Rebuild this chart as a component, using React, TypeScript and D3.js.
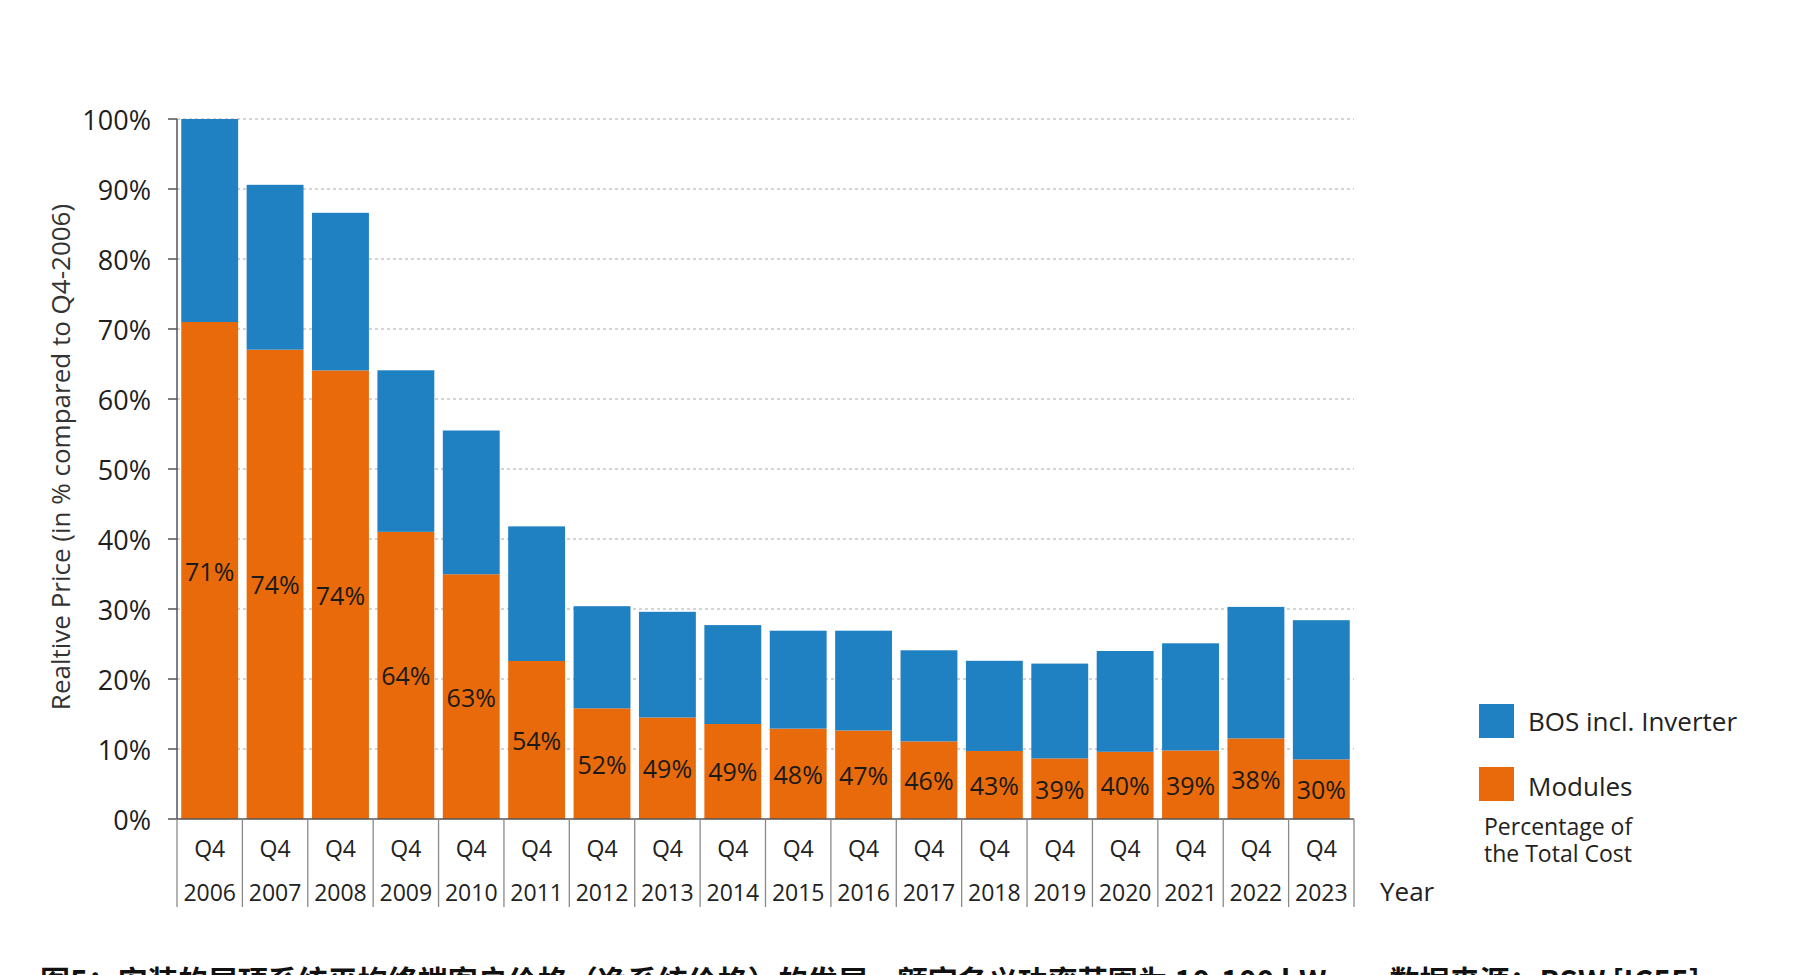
import React from "react";
import * as d3 from "d3";

// Relative end-customer price per year (Q4-2006 = 100 %)
const years = [
  "2006", "2007", "2008", "2009", "2010", "2011", "2012", "2013", "2014",
  "2015", "2016", "2017", "2018", "2019", "2020", "2021", "2022", "2023",
];
const quarterLabel = "Q4";
const totalPrice = [
  100, 90.6, 86.6, 64.1, 55.5, 41.8, 30.4, 29.6, 27.7,
  26.9, 26.9, 24.1, 22.6, 22.2, 24.0, 25.1, 30.3, 28.4,
];
// Share of the modules in the total system cost (%)
const moduleShare = [
  71, 74, 74, 64, 63, 54, 52, 49, 49,
  48, 47, 46, 43, 39, 40, 39, 38, 30,
];
const yTicks = [0, 10, 20, 30, 40, 50, 60, 70, 80, 90, 100];
const seriesNames = ["BOS incl. Inverter", "Modules"];
const legendNote = ["Percentage of", "the Total Cost"];
const yTitle = "Realtive Price (in % compared to Q4-2006)";
const xTitle = "Year";
const caption =
  "图5：安装的屋顶系统平均终端客户价格（净系统价格）的发展，额定名义功率范围为 10-100 kWp 。 数据来源：BSW [IC55]";

const W = 1814;
const H = 975;
const BLUE = "#1f81c1";
const ORANGE = "#e96a0b";
const FONT = "'Open Sans', 'Noto Sans', sans-serif";

export default function App() {
  const left = 177;
  const right = 1354;
  const top = 119;
  const bottom = 819;
  const sepBottom = 907;

  const x = d3
    .scaleBand<string>()
    .domain(years)
    .range([left, right])
    .paddingInner(0.13)
    .paddingOuter(0.065);
  const step = x.step();
  const y = d3.scaleLinear().domain([0, 100]).range([bottom, top]);

  const rows = years.map((yr, i) => {
    const total = totalPrice[i];
    const modules = (total * moduleShare[i]) / 100;
    return { yr, total, modules, share: moduleShare[i] };
  });

  const stackData = rows.map((r) => ({ yr: r.yr, modules: r.modules, bos: r.total - r.modules }));
  const stack = d3.stack<any>().keys(["modules", "bos"]);
  const layers = stack(stackData);
  const colors: Record<string, string> = { modules: ORANGE, bos: BLUE };

  // category boundaries for the separator lines under the axis
  const boundaries = d3.range(years.length + 1).map((i) => left + i * step);

  return (
    <div style={{ position: "absolute", left: 0, top: 0 }}>
      <svg width={W} height={H} style={{ display: "block", background: "#fff" }} fontFamily={FONT}>
        {/* grid */}
        {yTicks.map((t) => (
          <g key={t}>
            {t > 0 && (
              <line
                x1={left}
                x2={right}
                y1={y(t)}
                y2={y(t)}
                stroke="#a9a9a9"
                strokeWidth={1.2}
                strokeDasharray="3,3"
              />
            )}
            <line x1={left - 9} x2={left} y1={y(t)} y2={y(t)} stroke="#555" strokeWidth={1.5} />
            <text
              x={151}
              y={y(t)}
              textAnchor="end"
              dominantBaseline="central"
              fontSize={27}
              fill="#1e1e1e"
            >
              {t}%
            </text>
          </g>
        ))}

        {/* stacked bars */}
        {layers.map((layer) => (
          <g key={layer.key} fill={colors[layer.key]}>
            {layer.map((d: any, i: number) => (
              <rect
                key={i}
                x={x(years[i])}
                width={x.bandwidth()}
                y={y(d[1])}
                height={y(d[0]) - y(d[1])}
              />
            ))}
          </g>
        ))}

        {/* module share labels */}
        {rows.map((r) => (
          <text
            key={r.yr}
            x={(x(r.yr) as number) + x.bandwidth() / 2}
            y={(y(0) + y(r.modules)) / 2}
            textAnchor="middle"
            dominantBaseline="central"
            fontSize={25}
            fill="#1a1a1a"
          >
            {r.share}%
          </text>
        ))}

        {/* axes */}
        <line x1={left} x2={left} y1={top} y2={bottom} stroke="#555" strokeWidth={1.5} />
        <line x1={left} x2={right} y1={bottom} y2={bottom} stroke="#555" strokeWidth={1.5} />
        {boundaries.map((bx, i) => (
          <line key={i} x1={bx} x2={bx} y1={bottom} y2={sepBottom} stroke="#8a8a8a" strokeWidth={1.3} />
        ))}
        {years.map((yr, i) => {
          const cx = left + (i + 0.5) * step;
          return (
            <g key={yr}>
              <text x={cx} y={848} textAnchor="middle" dominantBaseline="central" fontSize={23} fill="#222">
                {quarterLabel}
              </text>
              <text x={cx} y={892} textAnchor="middle" dominantBaseline="central" fontSize={23} fill="#222">
                {yr}
              </text>
            </g>
          );
        })}
        <text x={1380} y={891} dominantBaseline="central" fontSize={26} fill="#222">
          {xTitle}
        </text>

        {/* y axis title */}
        <text
          transform="translate(60,457) rotate(-90)"
          textAnchor="middle"
          dominantBaseline="central"
          fontSize={26}
          fill="#333"
        >
          {yTitle}
        </text>

        {/* legend */}
        <rect x={1479} y={704} width={35} height={34} fill={BLUE} />
        <text x={1528} y={731} fontSize={26} fill="#222">
          {seriesNames[0]}
        </text>
        <rect x={1479} y={767} width={35} height={34} fill={ORANGE} />
        <text x={1528} y={796} fontSize={26} fill="#222">
          {seriesNames[1]}
        </text>
        <text x={1484} y={835} fontSize={23} fill="#222">
          {legendNote[0]}
        </text>
        <text x={1484} y={862} fontSize={23} fill="#222">
          {legendNote[1]}
        </text>

        {/* figure caption */}
        <text
          x={40}
          y={992}
          fontSize={30}
          fontWeight="bold"
          fill="#111"
          fontFamily="'Noto Sans CJK SC', sans-serif"
        >
          {caption}
        </text>
      </svg>
    </div>
  );
}
